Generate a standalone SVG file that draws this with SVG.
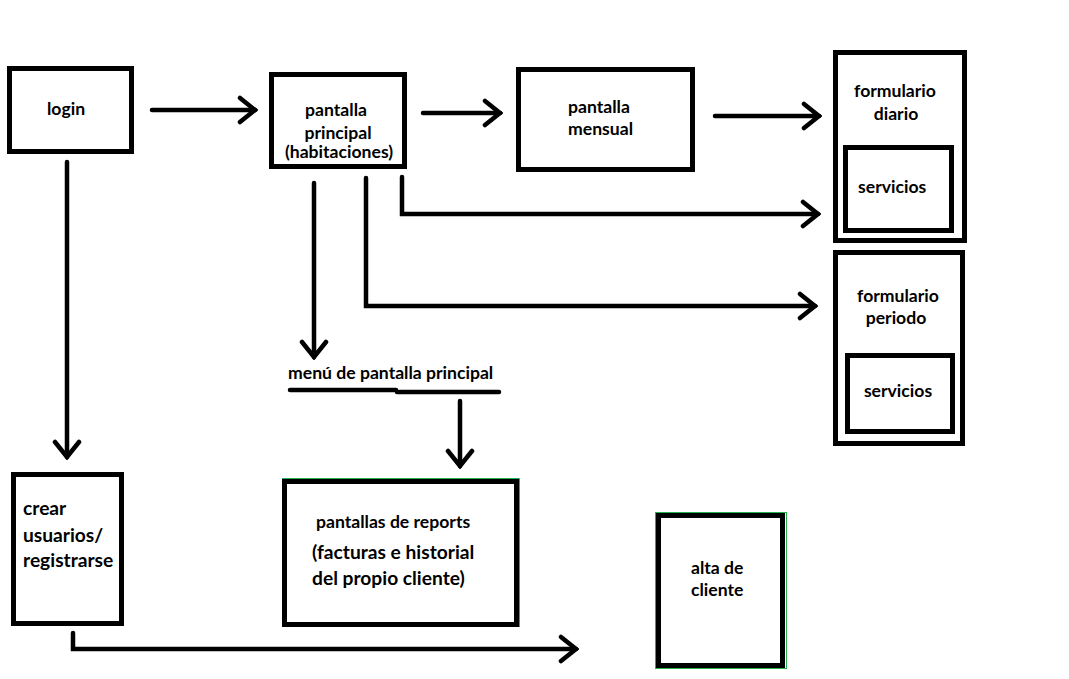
<svg xmlns="http://www.w3.org/2000/svg" width="1069" height="679" viewBox="0 0 1069 679">
<style>
  .box{fill:#fff;stroke:#000;stroke-width:5}
  .inner{fill:none;stroke:#000;stroke-width:5}
  .edge{fill:none;stroke:#000;stroke-width:4.5;stroke-linecap:round;stroke-linejoin:miter}
  .t{font-family:Lato,"Liberation Sans",sans-serif;font-weight:bold;font-size:17.6px;fill:#000}
  .tm{text-anchor:middle}
  .big{font-size:19.2px}
  .green{fill:none;stroke:#22b14c;stroke-width:1}
</style>
<defs>
  <marker id="ah" markerUnits="userSpaceOnUse" viewBox="-18 -15 21 30" refX="0" refY="0" markerWidth="21" markerHeight="30" orient="auto">
    <path d="M-15,-12 L0,0 L-15,12" fill="none" stroke="#000" stroke-width="4.5" stroke-linecap="round" stroke-linejoin="miter"/>
  </marker>
</defs>
<rect width="1069" height="679" fill="#fff"/>

<g id="login">
  <rect class="box" x="9.5" y="68.5" width="122" height="83"/>
  <text class="t" x="47" y="115">login</text>
</g>

<g id="pantalla-principal">
  <rect class="box" x="271.5" y="74.5" width="133" height="92"/>
  <text class="t tm" x="336" y="116">pantalla</text>
  <text class="t tm" x="338" y="139">principal</text>
  <text class="t tm" x="339" y="158">(habitaciones)</text>
</g>

<g id="pantalla-mensual">
  <rect class="box" x="518.5" y="69.5" width="174" height="100"/>
  <text class="t" x="568" y="113">pantalla</text>
  <text class="t" x="568" y="135">mensual</text>
</g>

<g id="formulario-diario">
  <rect class="box" x="835.5" y="52.5" width="129" height="188"/>
  <text class="t tm" x="895" y="97">formulario</text>
  <text class="t tm" x="896" y="120">diario</text>
  <rect class="inner" x="845.5" y="147.5" width="106" height="83"/>
  <text class="t" x="858" y="193">servicios</text>
</g>

<g id="formulario-periodo">
  <rect class="box" x="835.5" y="252.5" width="127" height="191"/>
  <text class="t tm" x="898" y="302">formulario</text>
  <text class="t tm" x="896" y="324">periodo</text>
  <rect class="inner" x="847.5" y="355.5" width="105" height="76"/>
  <text class="t tm" x="898" y="397">servicios</text>
</g>

<g id="menu-pantalla-principal">
  <text class="t" x="288" y="379">menú de pantalla principal</text>
  <path class="edge" d="M290,390 H396 M397,392 H499"/>
</g>

<g id="crear-usuarios">
  <rect class="box" x="13.5" y="474.5" width="108" height="149"/>
  <text class="t big" x="23" y="515">crear</text>
  <text class="t big" x="23" y="542">usuarios/</text>
  <text class="t big" x="23" y="567">registrarse</text>
</g>

<g id="pantallas-reports">
  <path class="green" d="M282,478.5 H519.5 V627"/>
  <rect class="box" x="284.5" y="481.5" width="232" height="143"/>
  <text class="t" x="316" y="528">pantallas de reports</text>
  <text class="t big" x="312" y="559">(facturas e historial</text>
  <text class="t big" x="312" y="585">del propio cliente)</text>
</g>

<g id="alta-cliente">
  <rect class="green" x="655.5" y="512.5" width="131" height="156"/>
  <rect class="box" x="658.5" y="515.5" width="124" height="150"/>
  <text class="t" x="691" y="574">alta de</text>
  <text class="t" x="691" y="596">cliente</text>
</g>

<g id="connectors">
  <path class="edge" marker-end="url(#ah)" d="M152,110 H255"/>
  <path class="edge" marker-end="url(#ah)" d="M423,113 H500"/>
  <path class="edge" marker-end="url(#ah)" d="M715,116 H819"/>
  <path class="edge" marker-end="url(#ah)" d="M402,177 V214 H818"/>
  <path class="edge" marker-end="url(#ah)" d="M366,178 V306 H815"/>
  <path class="edge" marker-end="url(#ah)" d="M314,183 V357"/>
  <path class="edge" marker-end="url(#ah)" d="M460,401 V466"/>
  <path class="edge" marker-end="url(#ah)" d="M67,162 V457"/>
  <path class="edge" marker-end="url(#ah)" d="M73,633 V649 H576"/>
</g>
</svg>
